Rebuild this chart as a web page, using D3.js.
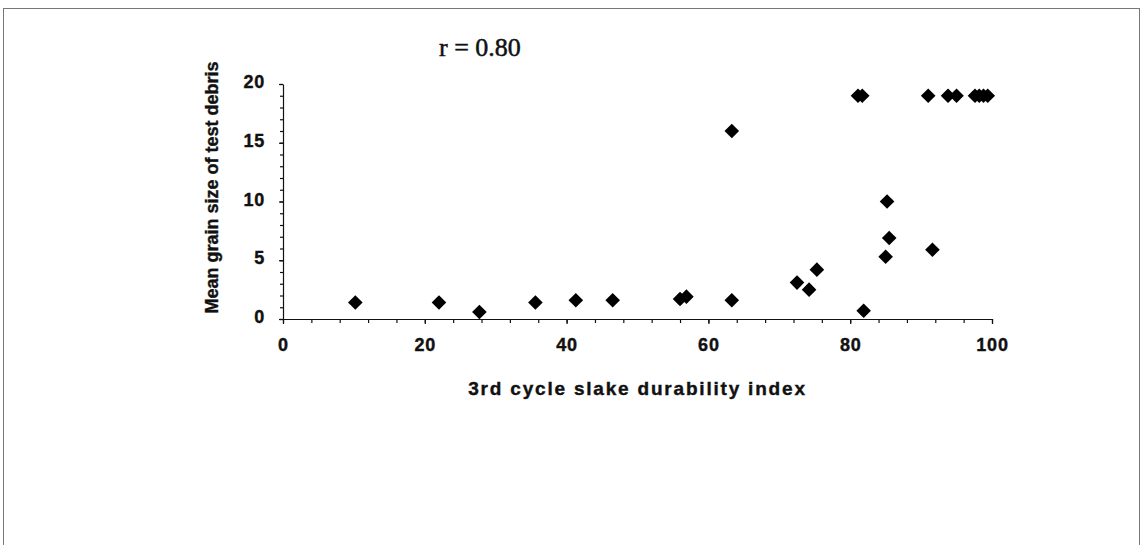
<!DOCTYPE html>
<html>
<head>
<meta charset="utf-8">
<script src="https://cdn.jsdelivr.net/npm/d3@7"></script>
<style>
    body { margin: 0; background: #fff; }
    svg { display: block; }
</style>
</head>
<body>
<svg id="chart" width="1142" height="545"></svg>
<script>
// Data (x = slake durability index, y = mean grain size)
const slakeIndex = [10.2, 22.0, 27.7, 35.6, 41.3, 46.5, 56.0, 56.9, 63.3, 63.3,
                    72.5, 74.2, 75.3, 81.9, 85.0, 85.5, 85.2, 91.6,
                    81.1, 81.7, 91.0, 93.8, 95.0, 97.6, 98.2, 98.8, 99.4]
const grainSize  = [1.4, 1.4, 0.6, 1.4, 1.6, 1.6, 1.7, 1.9, 1.6, 16.0,
                    3.1, 2.5, 4.2, 0.7, 5.3, 6.9, 10.0, 5.9,
                    19, 19, 19, 19, 19, 19, 19, 19, 19]
const xTicks = [0, 20, 40, 60, 80, 100]
const yTicks = [0, 5, 10, 15, 20]
const corrLabel = "r = 0.80"
const xTitle = "3rd cycle slake durability index"
const yTitle = "Mean grain size of test debris"

let svg = d3.select("#chart")

// outer frame of the scanned figure
svg.append("rect")
    .attr("x", 3.5).attr("y", 8.5)
    .attr("width", 1136).attr("height", 560)
    .attr("fill", "none")
    .attr("stroke", "#777")
    .attr("stroke-width", 1)

let plot = {left: 283, right: 992, top: 84, bottom: 319}

let xScale = d3.scaleLinear().domain([0, 100]).range([plot.left, plot.right])
let yScale = d3.scaleLinear().domain([0, 20]).range([plot.bottom, plot.top])

let g = svg.append("g")

// minor ticks first (x every 4, y every 1), then major axis with labels
g.append("g")
    .attr("transform", `translate(0,${plot.bottom})`)
    .call(d3.axisBottom(xScale).tickValues(d3.range(0, 101, 4)).tickSize(4).tickFormat(""))
    .call(a => a.select(".domain").remove())

g.append("g")
    .attr("transform", `translate(${plot.left},0)`)
    .call(d3.axisLeft(yScale).tickValues(d3.range(0, 21, 1)).tickSize(3).tickFormat(""))
    .call(a => a.select(".domain").remove())

let xAxis = g.append("g")
    .attr("transform", `translate(0,${plot.bottom})`)
    .call(d3.axisBottom(xScale).tickValues(xTicks).tickSize(5).tickSizeOuter(0).tickPadding(14))

let yAxis = g.append("g")
    .attr("transform", `translate(${plot.left},0)`)
    .call(d3.axisLeft(yScale).tickValues(yTicks).tickSize(4).tickSizeOuter(0).tickPadding(14))

g.selectAll(".tick line, .domain")
    .attr("stroke", "#111")
    .attr("stroke-width", 1.2)

// scanned text looks heavier than plain bold, so add a thin outline
g.selectAll(".tick text")
    .attr("font-family", "'Liberation Sans', Arial, sans-serif")
    .attr("font-weight", "bold")
    .attr("font-size", 18)
    .attr("letter-spacing", 0.8)
    .attr("fill", "#111")
    .attr("stroke", "#111")
    .attr("stroke-width", 0.4)

yAxis.selectAll(".tick text").attr("dy", "0.2em")

// axis titles
svg.append("text")
    .attr("x", (plot.left + plot.right) / 2)
    .attr("y", 395)
    .attr("text-anchor", "middle")
    .attr("font-family", "'Liberation Sans', Arial, sans-serif")
    .attr("font-weight", "bold")
    .attr("font-size", 19)
    .attr("letter-spacing", 1.8)
    .attr("fill", "#111")
    .attr("stroke", "#111")
    .attr("stroke-width", 0.4)
    .text(xTitle)

svg.append("text")
    .attr("transform", `translate(218,${(plot.top + plot.bottom) / 2 - 14}) rotate(-90)`)
    .attr("text-anchor", "middle")
    .attr("font-family", "'Liberation Sans', Arial, sans-serif")
    .attr("font-weight", "bold")
    .attr("font-size", 18)
    .attr("fill", "#111")
    .attr("stroke", "#111")
    .attr("stroke-width", 0.4)
    .text(yTitle)

// correlation annotation
svg.append("text")
    .attr("x", 439)
    .attr("y", 56)
    .attr("font-family", "'Liberation Serif', 'Times New Roman', serif")
    .attr("font-size", 26)
    .attr("fill", "#111")
    .attr("stroke", "#111")
    .attr("stroke-width", 0.5)
    .text(corrLabel)

// diamond markers
let points = slakeIndex.map((x, i) => ({x: x, y: grainSize[i]}))
let r = 7.3
g.append("g")
    .selectAll("path")
    .data(points)
    .join("path")
    .attr("transform", d => `translate(${xScale(d.x)},${yScale(d.y)})`)
    .attr("d", `M0,${-r}L${r},0L0,${r}L${-r},0Z`)
    .attr("fill", "#000")
</script>
</body>
</html>
